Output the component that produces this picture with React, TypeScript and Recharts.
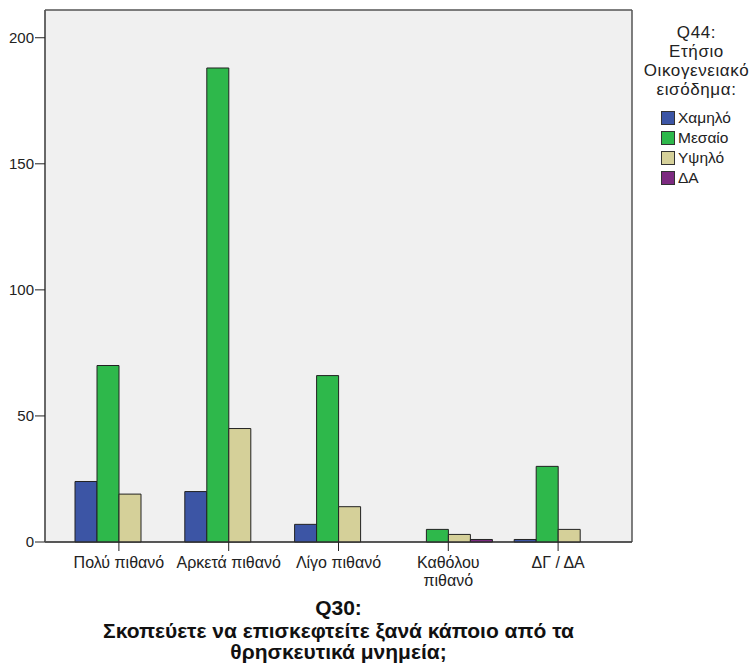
import React from 'react';
import { BarChart, Bar, XAxis, YAxis, CartesianGrid, Legend } from 'recharts';

const categories = ['Πολύ πιθανό', 'Αρκετά πιθανό', 'Λίγο πιθανό', 'Καθόλου πιθανό', 'ΔΓ / ΔΑ'];
const tickLines = [['Πολύ πιθανό'], ['Αρκετά πιθανό'], ['Λίγο πιθανό'], ['Καθόλου', 'πιθανό'], ['ΔΓ / ΔΑ']];
const low = [24, 20, 7, 0, 1];
const mid = [70, 188, 66, 5, 30];
const high = [19, 45, 14, 3, 5];
const na = [0, 0, 0, 1, 0];
const seriesNames = ['Χαμηλό', 'Μεσαίο', 'Υψηλό', 'ΔΑ'];
const seriesColors = ['#3c55a5', '#2eb84b', '#d5d099', '#7c2a80'];
const yTicks = [0, 50, 100, 150, 200];
const legendTitle = ['Q44:', 'Ετήσιο', 'Οικογενειακό', 'εισόδημα:'];
const axisTitle = ['Q30:', 'Σκοπεύετε να επισκεφτείτε ξανά κάποιο από τα', 'θρησκευτικά μνημεία;'];

const FONT = '"Liberation Sans", Arial, sans-serif';

const data = categories.map((c, i) => ({
  name: c,
  low: low[i],
  mid: mid[i],
  high: high[i],
  na: na[i],
}));
const keys = ['low', 'mid', 'high', 'na'];

function XTick(props: any) {
  const { x, y, payload } = props;
  const lines = tickLines[payload.index] || [payload.value];
  return (
    <text x={x} y={y + 2} textAnchor="middle" fill="#222" fontSize={16} fontFamily={FONT}>
      {lines.map((l, i) => (
        <tspan key={i} x={x} dy={i === 0 ? '0.8em' : '1.15em'}>
          {l}
        </tspan>
      ))}
    </text>
  );
}

function AxisTitle(props: any) {
  const { viewBox } = props;
  const cx = viewBox.x + viewBox.width / 2;
  return (
    <text x={cx} y={viewBox.y + 73} textAnchor="middle" fill="#111" fontSize={21} fontWeight="bold" fontFamily={FONT}>
      {axisTitle.map((l, i) => (
        <tspan key={i} x={cx} dy={i === 0 ? 0 : i === 1 ? 23 : 21}>
          {l}
        </tspan>
      ))}
    </text>
  );
}

function LegendBox() {
  return (
    <div style={{ fontFamily: FONT, color: '#222', width: 113 }}>
      <div style={{ textAlign: 'center', fontSize: 17, lineHeight: '19px', letterSpacing: '0.6px' }}>
        {legendTitle.map((t, i) => (
          <div key={i}>{t}</div>
        ))}
      </div>
      <div style={{ marginTop: 9, paddingLeft: 21 }}>
        {seriesNames.map((s, i) => (
          <div key={s} style={{ display: 'flex', alignItems: 'center', height: 20, fontSize: 15.5 }}>
            <span
              style={{
                display: 'inline-block',
                width: 12,
                height: 12,
                background: seriesColors[i],
                border: '1px solid #333',
                marginRight: 3,
                flexShrink: 0,
              }}
            />
            {s}
          </div>
        ))}
      </div>
    </div>
  );
}

export default function App() {
  return (
    <div style={{ position: 'absolute', left: 0, top: 0, width: 753, height: 667, background: '#fff' }}>
      <BarChart
        width={753}
        height={667}
        data={data}
        margin={{ top: 10, right: 8, left: 0, bottom: 95 }}
        barGap={0}
        barSize={22}
      >
        <CartesianGrid
          fill="#f0f0f0"
          stroke="#555"
          strokeWidth={1.5}
          horizontalCoordinatesGenerator={({ offset }: any) => [offset.top, offset.top + offset.height]}
          verticalCoordinatesGenerator={({ offset }: any) => [offset.left, offset.left + offset.width]}
        />
        <XAxis
          dataKey="name"
          height={30}
          padding={{ left: 19, right: 19 }}
          tickSize={9}
          tickLine={{ stroke: '#222' }}
          axisLine={{ stroke: '#333' }}
          tick={<XTick />}
          interval={0}
          label={<AxisTitle />}
        />
        <YAxis
          width={45}
          domain={[0, 211]}
          ticks={yTicks}
          tickSize={10}
          tickMargin={1}
          tickLine={{ stroke: '#222' }}
          axisLine={{ stroke: '#555' }}
          tick={{ fill: '#222', fontSize: 15, fontFamily: FONT }}
        />
        <Legend
          verticalAlign="top"
          align="right"
          layout="vertical"
          content={() => <LegendBox />}
          wrapperStyle={{ position: 'absolute', left: 640, top: 23, width: 113 }}
        />
        {keys.map((k, i) => (
          <Bar
            key={k}
            dataKey={k}
            name={seriesNames[i]}
            fill={seriesColors[i]}
            stroke="#222"
            strokeWidth={1}
            isAnimationActive={false}
          />
        ))}
      </BarChart>
    </div>
  );
}
